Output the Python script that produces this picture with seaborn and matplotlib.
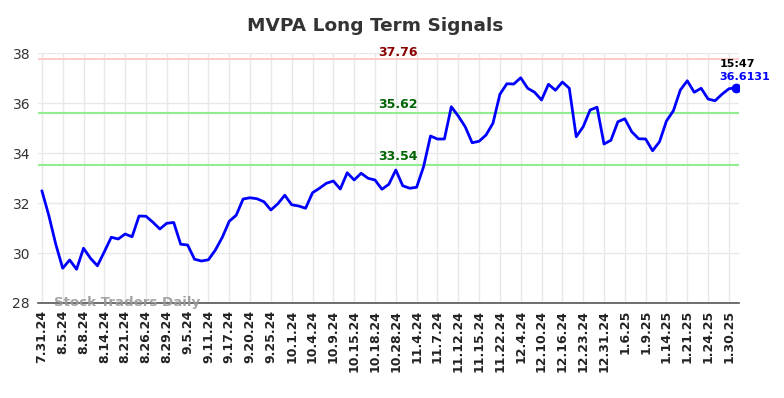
import numpy as np
import pandas as pd
import seaborn as sns
import matplotlib
matplotlib.use("Agg")
import matplotlib.pyplot as plt

# closing prices
prices = [
    32.49, 31.50, 30.35, 29.39, 29.72, 29.35, 30.19, 29.79, 29.49, 30.05,
    30.63, 30.56, 30.76, 30.65, 31.48, 31.47, 31.23, 30.96, 31.19, 31.22,
    30.35, 30.32, 29.75, 29.68, 29.73, 30.12, 30.63, 31.27, 31.51, 32.16,
    32.21, 32.17, 32.05, 31.72, 31.97, 32.31, 31.93, 31.88, 31.79, 32.41,
    32.59, 32.79, 32.88, 32.56, 33.21, 32.92, 33.19, 32.99, 32.92, 32.55,
    32.75, 33.32, 32.69, 32.59, 32.63, 33.45, 34.68, 34.56, 34.56, 35.85,
    35.48, 35.05, 34.41, 34.47, 34.72, 35.19, 36.35, 36.77, 36.76, 37.01,
    36.59, 36.43, 36.12, 36.75, 36.51, 36.84, 36.59, 34.65, 35.05, 35.72,
    35.83, 34.36, 34.51, 35.25, 35.37, 34.85, 34.57, 34.56, 34.09, 34.45,
    35.28, 35.69, 36.52, 36.89, 36.43, 36.59, 36.16, 36.09, 36.35, 36.57,
    36.6131,
]

tick_labels = [
    "7.31.24", "8.5.24", "8.8.24", "8.14.24", "8.21.24", "8.26.24", "8.29.24",
    "9.5.24", "9.11.24", "9.17.24", "9.20.24", "9.25.24", "10.1.24", "10.4.24",
    "10.9.24", "10.15.24", "10.18.24", "10.28.24", "11.4.24", "11.7.24",
    "11.12.24", "11.15.24", "11.22.24", "12.4.24", "12.10.24", "12.16.24",
    "12.23.24", "12.31.24", "1.6.25", "1.9.25", "1.14.25", "1.21.25",
    "1.24.25", "1.30.25",
]

resistance = 37.76
support_levels = [35.62, 33.54]
last_time = "15:47"

df = pd.DataFrame({"idx": np.arange(len(prices)), "price": prices})

sns.set_style("white")
fig = plt.figure(figsize=(7.84, 3.98), dpi=100)
ax = fig.add_axes([0.049, 0.2387, 0.894, 0.6281])

sns.lineplot(data=df, x="idx", y="price", ax=ax, color="#0000ff", linewidth=2)

# signal levels
ax.axhline(resistance, color="#ffcccc", linewidth=1.5, zorder=1)
for lvl in support_levels:
    ax.axhline(lvl, color="#90ee90", linewidth=1.5, zorder=1)

lx = 51.3
ax.text(lx, resistance + 0.02, f"{resistance:.2f}", color="#8b0000",
        fontsize=9, fontweight="bold", ha="center", va="bottom")
for lvl in support_levels:
    ax.text(lx, lvl + 0.06, f"{lvl:.2f}", color="#006400",
            fontsize=9, fontweight="bold", ha="center", va="bottom")

# last price marker + annotation
last_i = len(prices) - 1
ax.plot(last_i, prices[-1], "o", color="#0000ff", markersize=6)
ax.text(last_i + 0.3, prices[-1] + 0.96, last_time, color="black", fontsize=8,
        fontweight="bold", ha="center", va="center")
ax.text(last_i + 1.3, prices[-1] + 0.44, f"{prices[-1]:.4f}", color="#0000ff",
        fontsize=8, fontweight="bold", ha="center", va="center")

ax.set_xlim(-0.5, last_i + 0.5)
ax.set_ylim(28, 38)
ticks = np.arange(0, len(tick_labels) * 3, 3)
ax.set_xticks(ticks)
ax.set_xticklabels(tick_labels, rotation=90, fontsize=9, fontweight="bold",
                   color="#222222")
ax.set_yticks([28, 30, 32, 34, 36, 38])
ax.tick_params(axis="y", labelsize=10, colors="#333333", length=0, pad=6)
ax.tick_params(axis="x", length=0, pad=5)
ax.set_xlabel("")
ax.set_ylabel("")
ax.grid(True, color="#e8e8e8", linewidth=1)
ax.set_axisbelow(True)
for side in ["left", "right", "top"]:
    ax.spines[side].set_visible(False)
ax.spines["bottom"].set_color("#555555")
ax.spines["bottom"].set_linewidth(1.2)

ax.text(1.7, 28.0, "Stock Traders Daily", color="#999999", fontsize=9.6,
        fontweight="bold", ha="left", va="center", alpha=0.9)

fig.text(375 / 784, 1 - 26 / 398, "MVPA Long Term Signals", fontsize=13.3,
         fontweight="bold", color="#333333", ha="center", va="center")

fig.savefig("out.png", dpi=100)
